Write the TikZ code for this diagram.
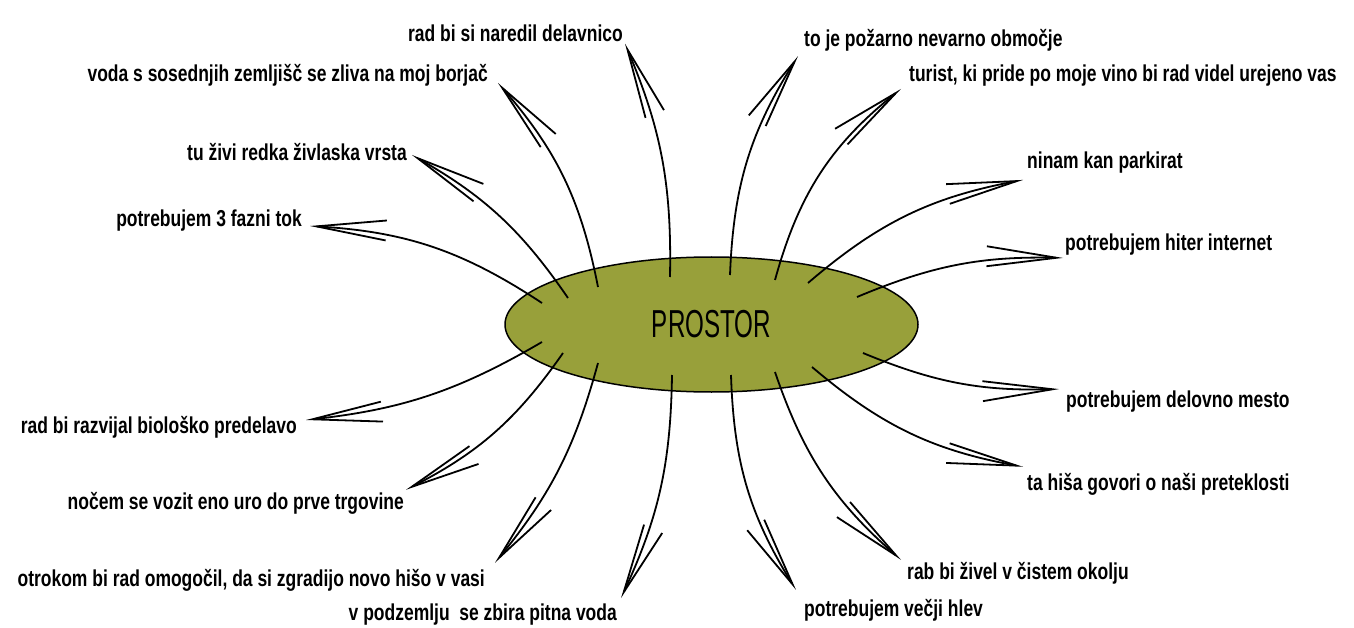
\documentclass[tikz,border=0pt]{standalone}
\usepackage{fontspec}
\setmainfont{Liberation Sans}
\newfontfamily\notefont[FakeStretch=0.76]{Liberation Sans}
\newfontfamily\hubfont[FakeStretch=0.62]{Liberation Sans}
\usetikzlibrary{shapes.geometric, positioning, arrows.meta}
\definecolor{oliveHub}{RGB}{152, 160, 58}
\tikzset{
  hub/.style={ellipse, minimum width=413pt, minimum height=135pt, draw=black, line width=1.5pt, fill=oliveHub, font=\hubfont\fontsize{39}{45}\selectfont},
  note/.style={inner sep=2pt, font=\notefont\bfseries\fontsize{23}{26}\selectfont},
  arrow/.style={line width=1.8pt, -{Straight Barb[length=70pt, width=20pt]}}
}

\begin{document}
\begin{tikzpicture}[x=1pt, y=-1pt]
            \useasboundingbox (0,0) rectangle (1354,628);

            % Elipsa v sredini
            \node[hub] (pr) at (711.5,324.5) {PROSTOR};

            % Napisi levo zgoraj
            \node[note, anchor=east] (del) at (625,33) {rad bi si naredil delavnico};
            \node[note, anchor=east] (voda) at (490,75) {voda s sosednjih zemljišč se zliva na moj borjač};
            \node[note, anchor=east] (ziv) at (409,152) {tu živi redka živlaska vrsta};
            \node[note, anchor=east] (faz) at (304,221) {potrebujem 3 fazni tok};

            % Napisi desno zgoraj
            \node[note, anchor=west] (poz) at (802,40) {to je požarno nevarno območje};
            \node[note, anchor=west] (tur) at (907,76) {turist, ki pride po moje vino bi rad videl urejeno vas};
            \node[note, anchor=west] (nin) at (1025,163) {ninam kan parkirat};
            \node[note, anchor=west] (hit) at (1063,245) {potrebujem hiter internet};

            % Napisi desno spodaj
            \node[note, anchor=west] (dlv) at (1064,402) {potrebujem delovno mesto};
            \node[note, anchor=west] (his) at (1025,484) {ta hiša govori o naši preteklosti};
            \node[note, anchor=west] (rab) at (905,573) {rab bi živel v čistem okolju};
            \node[note, anchor=west] (vec) at (802,610) {potrebujem večji hlev};

            % Napisi levo spodaj
            \node[note, anchor=east] (pod) at (619,615) {v podzemlju\ \ se zbira pitna voda};
            \node[note, anchor=east] (otr) at (487,580) {otrokom bi rad omogočil, da si zgradijo novo hišo v vasi};
            \node[note, anchor=east] (noc) at (406,503) {nočem se vozit eno uro do prve trgovine};
            \node[note, anchor=east] (bio) at (299,427) {rad bi razvijal biološko predelavo};

            % Puscice navzgor
            \draw[arrow] ([xshift=-169.5pt, yshift=21.5pt]pr.center) to[bend right=15] ([xshift=6pt, yshift=-5pt]faz.east);
            \draw[arrow] ([xshift=-143.5pt, yshift=26.5pt]pr.center) to[bend right=13] ([xshift=3pt, yshift=-3pt]ziv.east);
            \draw[arrow] ([xshift=-113.5pt, yshift=37.5pt]pr.center) to[bend right=15] ([xshift=8pt, yshift=-8pt]voda.east);
            \draw[arrow] ([xshift=-41.5pt, yshift=47.5pt]pr.center) to[bend right=12] (del.south east);
            \draw[arrow] ([xshift=18.5pt, yshift=49.5pt]pr.center) to[bend left=15] ([xshift=-4pt, yshift=-3pt]poz.south west);
            \draw[arrow] ([xshift=63.5pt, yshift=44.5pt]pr.center) to[bend left=18] ([xshift=-6pt]tur.south west);
            \draw[arrow] ([xshift=96.5pt, yshift=41.5pt]pr.center) to[bend left=15] ([xshift=-2pt, yshift=-4pt]nin.south west);
            \draw[arrow] ([xshift=145.5pt, yshift=27.5pt]pr.center) to[bend left=12] (hit.south west);

            % Puscice navzdol
            \draw[arrow] ([xshift=151.5pt, yshift=-28.5pt]pr.center) to[bend right=12] ([xshift=-5pt]dlv.north west);
            \draw[arrow] ([xshift=100.5pt, yshift=-42.5pt]pr.center) to[bend right=15] ([xshift=-2pt, yshift=4pt]his.north west);
            \draw[arrow] ([xshift=63.5pt, yshift=-47.5pt]pr.center) to[bend right=15] ([xshift=-4pt]rab.north west);
            \draw[arrow] ([xshift=19.5pt, yshift=-50.5pt]pr.center) to[bend right=15] ([xshift=-6pt, yshift=7pt]vec.north west);
            \draw[arrow] ([xshift=-39.5pt, yshift=-50.5pt]pr.center) to[bend left=12] ([xshift=2pt, yshift=4pt]pod.north east);
            \draw[arrow] ([xshift=-113.5pt, yshift=-38.5pt]pr.center) to[bend left=12] ([xshift=8pt, yshift=4pt]otr.north east);
            \draw[arrow] ([xshift=-148.5pt, yshift=-28.5pt]pr.center) to[bend left=14] (noc.north east);
            \draw[arrow] ([xshift=-169.5pt, yshift=-17.5pt]pr.center) to[bend left=12] ([xshift=7pt, yshift=7pt]bio.east);
\end{tikzpicture}
\end{document}
